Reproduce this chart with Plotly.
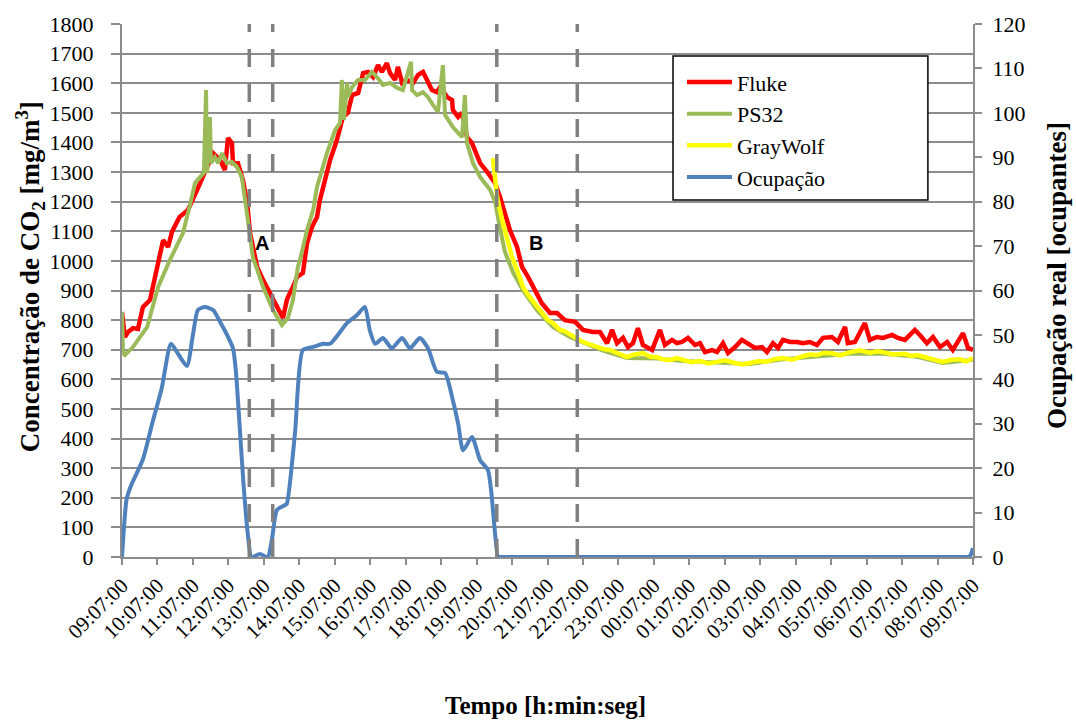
import plotly.graph_objects as go

# ---- tick labels (hourly, starting 09:07:00) ----
tick_hours = list(range(0, 25))
tick_labels = ["09:07:00", "10:07:00", "11:07:00", "12:07:00", "13:07:00", "14:07:00",
               "15:07:00", "16:07:00", "17:07:00", "18:07:00", "19:07:00", "20:07:00",
               "21:07:00", "22:07:00", "23:07:00", "00:07:00", "01:07:00", "02:07:00",
               "03:07:00", "04:07:00", "05:07:00", "06:07:00", "07:07:00", "08:07:00",
               "09:07:00"]

# ---- Fluke (hours since 09:07:00, mg/m3) ----
fluke_t = [0.00, 0.08, 0.17, 0.31, 0.45, 0.59, 0.79, 0.90, 1.02, 1.16, 1.30, 1.41, 1.62, 1.86, 2.12,
           2.40, 2.57, 2.76, 2.90, 2.99, 3.10, 3.13, 3.27, 3.41, 3.53, 3.61, 3.81, 3.98, 4.17,
           4.31, 4.46, 4.54, 4.65, 4.68, 4.82, 4.94, 5.10, 5.22, 5.36, 5.50, 5.58, 5.67, 5.87,
           6.06, 6.23, 6.37, 6.49, 6.66, 6.80, 6.94, 7.08, 7.22, 7.33, 7.47, 7.56, 7.70, 7.78,
           7.90, 8.04, 8.21, 8.35, 8.49, 8.60, 8.74, 8.88, 8.97, 9.17, 9.31, 9.33, 9.48, 9.59,
           9.73, 9.87, 10.01, 10.10, 10.32, 10.52, 10.66, 10.80, 10.94, 11.14, 11.28, 11.45,
           11.65, 11.84, 12.07, 12.27, 12.49, 12.78, 13.00, 13.28, 13.48, 13.68, 13.82, 13.96,
           14.13, 14.27, 14.41, 14.55, 14.69, 14.95, 15.17, 15.31, 15.51, 15.65, 15.79, 15.96,
           16.16, 16.30, 16.44, 16.64, 16.78, 16.95, 17.09, 17.29, 17.48, 17.65, 17.85, 18.05,
           18.19, 18.36, 18.50, 18.64, 18.84, 19.04, 19.20, 19.40, 19.60, 19.77, 20.02, 20.19,
           20.39, 20.47, 20.67, 20.95, 21.09, 21.29, 21.46, 21.72, 21.88, 22.08, 22.36, 22.50,
           22.70, 22.87, 23.07, 23.27, 23.43, 23.72, 23.86, 24.00]
fluke_v = [827, 743, 760, 773, 770, 844, 868, 930, 1003, 1070, 1047, 1098, 1148, 1172, 1240,
           1317, 1364, 1341, 1307, 1415, 1398, 1330, 1330, 1273, 1196, 1094, 980, 935, 891,
           857, 824, 807, 868, 878, 912, 946, 959, 1060, 1115, 1148, 1205, 1250, 1341,
           1408, 1486, 1500, 1560, 1567, 1634, 1638, 1621, 1661, 1638, 1668, 1634, 1611, 1655,
           1601, 1611, 1601, 1628, 1638, 1611, 1577, 1570, 1587, 1553, 1543, 1510, 1486, 1500,
           1418, 1398, 1351, 1330, 1297, 1263, 1216, 1162, 1104, 1047, 980, 946,
           902, 857, 824, 824, 800, 794, 767, 760, 760, 722, 767, 722,
           740, 709, 722, 773, 716, 699, 767, 716, 733, 722, 726, 740,
           716, 722, 692, 699, 692, 722, 689, 709, 733, 722, 706, 709,
           692, 722, 706, 733, 726, 726, 722, 726, 716, 740, 743, 726,
           777, 722, 726, 790, 733, 743, 740, 750, 740, 733, 767, 750,
           722, 743, 709, 726, 699, 756, 706, 699]

# ---- PS32 ----
ps32_t = [0.00, 0.03, 0.08, 0.31, 0.71, 1.02, 1.35, 1.72, 1.92, 2.06, 2.20, 2.31, 2.37, 2.40,
          2.48, 2.51, 2.62, 2.71, 2.82, 2.96, 3.10, 3.24, 3.38, 3.47, 3.53, 3.55, 3.69, 3.98,
          4.26, 4.51, 4.68, 4.82, 4.96, 5.02, 5.22, 5.39, 5.50, 5.78, 6.01, 6.15, 6.20, 6.26,
          6.35, 6.37, 6.49, 6.66, 6.85, 7.05, 7.19, 7.36, 7.56, 7.76, 7.92, 8.15, 8.18, 8.32,
          8.49, 8.63, 8.77, 8.91, 9.05, 9.11, 9.33, 9.59, 9.67, 9.73, 9.90, 10.10, 10.38,
          10.52, 10.66, 10.80, 11.03, 11.31, 11.70, 12.15, 12.63, 13.11, 13.56, 14.24, 15.09,
          15.82, 16.78, 17.71, 18.64, 19.60, 20.53, 21.46, 22.42, 23.15, 24.00]
ps32_v = [827, 689, 682, 709, 777, 912, 1003, 1094, 1190, 1263, 1283, 1297, 1577, 1297,
          1486, 1330, 1350, 1330, 1364, 1330, 1334, 1317, 1283, 1216, 1172, 1138, 1013, 912,
          834, 783, 807, 868, 980, 1003, 1104, 1172, 1250, 1364, 1442, 1466, 1611, 1476,
          1601, 1553, 1587, 1611, 1611, 1638, 1621, 1594, 1601, 1584, 1577, 1672, 1577, 1560,
          1570, 1553, 1527, 1503, 1661, 1493, 1452, 1418, 1560, 1398, 1330, 1283, 1240,
          1200, 1110, 1030, 960, 900, 834, 777, 743, 720, 697, 672, 670,
          662, 656, 652, 668, 676, 686, 686, 676, 655, 666]

# ---- GrayWolf ----
gw_t = [10.46, 10.49, 10.52, 10.58, 10.72, 10.86, 11.00, 11.14, 11.31, 11.45, 11.56, 11.70,
        11.79, 11.90, 12.01, 12.15, 12.35, 12.49, 12.63, 12.80, 13.00, 13.20, 13.40, 13.58,
        13.76, 14.00, 14.24, 14.45, 14.69, 14.90, 15.09, 15.25, 15.45, 15.65, 15.82, 16.05,
        16.30, 16.55, 16.78, 17.00, 17.29, 17.50, 17.71, 17.95, 18.19, 18.40, 18.64, 18.90,
        19.20, 19.40, 19.60, 19.80, 20.02, 20.25, 20.53, 20.80, 21.09, 21.30, 21.46, 21.75,
        22.08, 22.25, 22.42, 22.65, 22.87, 23.00, 23.15, 23.40, 23.63, 23.80, 24.00]
gw_v = [1347, 1307, 1263, 1216, 1138, 1070, 1013, 969, 912, 885, 868, 845,
        834, 815, 800, 790, 767, 762, 750, 740, 726, 718, 709, 702,
        699, 688, 675, 684, 689, 676, 675, 668, 665, 672, 665, 658,
        662, 654, 659, 664, 655, 650, 655, 661, 660, 668, 672, 666,
        678, 684, 682, 690, 688, 681, 692, 698, 690, 695, 692, 684,
        686, 679, 682, 674, 670, 663, 659, 666, 668, 660, 672]

# ---- Occupancy (occupants) ----
occ_t = [0.00, 0.13, 0.25, 0.59, 0.85, 1.12, 1.38, 1.56, 1.83, 2.00, 2.14, 2.34, 2.57, 2.76,
         2.90, 3.13, 3.21, 3.33, 3.44, 3.55, 3.64, 3.70, 3.89, 4.06, 4.12, 4.23, 4.37, 4.60,
         4.65, 4.88, 5.10, 5.39, 5.67, 5.87, 6.35, 6.63, 6.85, 6.99, 7.14, 7.36, 7.61, 7.90,
         8.12, 8.40, 8.63, 8.88, 9.11, 9.33, 9.48, 9.62, 9.87, 10.10, 10.32, 10.41, 10.52,
         10.60, 10.63, 10.70, 10.85, 11.5, 13.0, 16.0, 19.0, 22.0, 23.3, 23.6, 23.75, 23.85,
         23.93, 24.00]
occ_v = [0, 13, 16, 22, 30, 38, 48, 46, 43, 50, 55.6, 56.3, 55.6, 53,
         51, 47, 42, 28, 15, 5, 0, 0, 0.7, 0, 0, 4, 10.6, 11.7,
         12, 28, 46.6, 47.3, 48, 48, 52.7, 54.5, 56.3, 51, 48, 49.3, 47, 49.3,
         47, 49.3, 47, 41.7, 41.4, 35.3, 30, 24, 27, 21.8, 19.6, 15, 5.4,
         0, 0, 0, 0, 0, 0, 0, 0, 0, 0, 0, 0, 0,
         0.4, 2]

# ---- period markers (hours) and labels ----
marker_hours = [3.59, 4.25, 10.57, 12.84]
period_labels = ["A", "B"]
period_label_t = [3.95, 11.68]
period_label_v = [1060, 1060]

FONT = "Liberation Serif"
GRID = "#8c8c8c"

fig = go.Figure()
fig.add_trace(go.Scatter(x=fluke_t, y=fluke_v, name="Fluke", mode="lines",
                         line=dict(color="#FF0000", width=4.5)))
fig.add_trace(go.Scatter(x=ps32_t, y=ps32_v, name="PS32", mode="lines",
                         line=dict(color="#9BBB59", width=4)))
fig.add_trace(go.Scatter(x=gw_t, y=gw_v, name="GrayWolf", mode="lines",
                         line=dict(color="#FFFF00", width=4.5)))
fig.add_trace(go.Scatter(x=occ_t, y=occ_v, name="Ocupação", mode="lines", yaxis="y2",
                         line=dict(color="#4F81BD", width=4, shape="spline", smoothing=0.6)))

for h in marker_hours:
    fig.add_shape(type="line", xref="x", yref="y", x0=h, x1=h, y0=0, y1=1800,
                  line=dict(color="#808080", width=3.5, dash="18px,17px"), layer="above")

# legend frame
fig.add_shape(type="rect", xref="paper", yref="paper", x0=0.6475, x1=0.947, y0=0.67, y1=0.94,
              line=dict(color="black", width=1.5), fillcolor="white", layer="above")

for lab, t, v in zip(period_labels, period_label_t, period_label_v):
    fig.add_annotation(x=t, y=v, xref="x", yref="y", text="<b>%s</b>" % lab, showarrow=False,
                       font=dict(family="Liberation Sans", size=20, color="black"))

fig.add_annotation(xref="paper", yref="paper", x=-0.108, y=0.525, textangle=-90,
                   xanchor="center", yanchor="middle",
                   text="<b>Concentração de CO<sub>2</sub> [mg/m<sup>3</sup>]</b>",
                   showarrow=False, font=dict(family=FONT, size=27, color="black"))
fig.add_annotation(xref="paper", yref="paper", x=1.0987, y=0.529, textangle=-90,
                   xanchor="center", yanchor="middle",
                   text="<b>Ocupação real [ocupantes]</b>",
                   showarrow=False, font=dict(family=FONT, size=27, color="black"))
fig.add_annotation(xref="paper", yref="paper", x=0.498, y=-0.279,
                   xanchor="center", yanchor="middle",
                   text="<b>Tempo [h:min:seg]</b>",
                   showarrow=False, font=dict(family=FONT, size=25, color="black"))

fig.update_layout(
    width=1076, height=722,
    margin=dict(l=122, r=103, t=24, b=165),
    paper_bgcolor="white", plot_bgcolor="white",
    font=dict(family=FONT, size=22, color="black"),
    showlegend=True,
    legend=dict(x=0.658, y=0.93, xanchor="left", yanchor="top",
                bgcolor="rgba(0,0,0,0)", borderwidth=0, itemwidth=45,
                font=dict(family=FONT, size=22, color="black"), tracegroupgap=0),
    xaxis=dict(range=[0, 24], tickmode="array", tickvals=tick_hours, ticktext=tick_labels,
               tickangle=-45, ticks="outside", ticklen=6, tickcolor=GRID, tickwidth=1.5,
               showline=True, linecolor=GRID, linewidth=2, showgrid=False, zeroline=False,
               layer="below traces",
               tickfont=dict(family=FONT, size=21, color="black")),
    yaxis=dict(range=[0, 1800], dtick=100, tick0=0, ticks="outside", ticklen=9,
               tickcolor=GRID, tickwidth=1.5, showline=True, linecolor=GRID, linewidth=2,
               showgrid=True, gridcolor=GRID, gridwidth=1.5, zeroline=False,
               layer="below traces", ticklabelstandoff=13,
               tickfont=dict(family=FONT, size=22, color="black")),
    yaxis2=dict(range=[0, 120], dtick=10, tick0=0, overlaying="y", side="right",
                ticks="outside", ticklen=7, tickcolor=GRID, tickwidth=1.5,
                showline=True, linecolor=GRID, linewidth=2, showgrid=False, zeroline=False,
                ticklabelstandoff=6,
                tickfont=dict(family=FONT, size=22, color="black")),
)

fig.write_html("out.html")
